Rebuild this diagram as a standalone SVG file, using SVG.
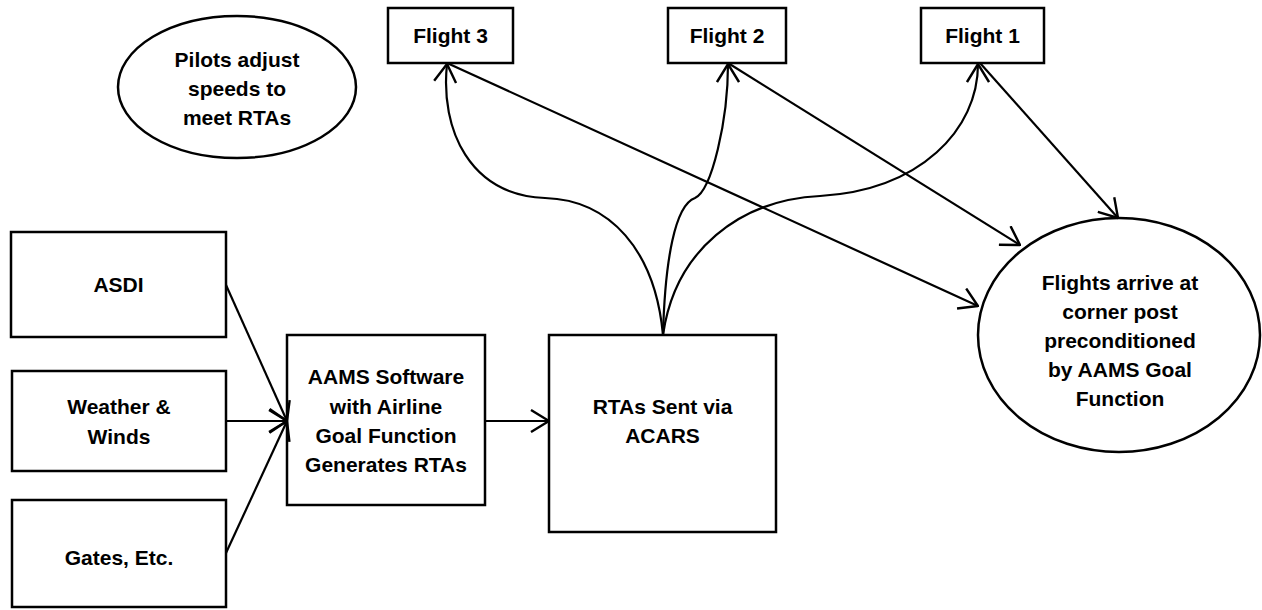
<svg xmlns="http://www.w3.org/2000/svg" width="1262" height="610" viewBox="0 0 1262 610">
<style>
.box{fill:#fff;stroke:#000;stroke-width:2.5}
.lbl{font-family:"Liberation Sans",Arial,sans-serif;font-weight:bold;font-size:21px;fill:#000;text-anchor:middle}
.ln{fill:none;stroke:#000;stroke-width:2.2}
</style>
<defs>
<marker id="arr" viewBox="0 0 20 24" refX="19" refY="12" markerWidth="20" markerHeight="24" orient="auto" markerUnits="userSpaceOnUse">
<path d="M1,1 L19,12 L1,23" fill="none" stroke="#000" stroke-width="2.4"/>
</marker>
</defs>
<rect width="1262" height="610" fill="#fff"/>
<g id="pilots">
<ellipse class="box" cx="237" cy="87" rx="119" ry="71"/>
<text class="lbl" x="237" y="67">Pilots adjust</text>
<text class="lbl" x="237" y="96">speeds to</text>
<text class="lbl" x="237" y="125">meet RTAs</text>
</g>
<g id="flight3">
<rect class="box" x="388" y="8" width="125" height="55"/>
<text class="lbl" x="450.5" y="43">Flight 3</text>
</g>
<g id="flight2">
<rect class="box" x="668" y="8" width="118" height="55"/>
<text class="lbl" x="727" y="43">Flight 2</text>
</g>
<g id="flight1">
<rect class="box" x="921" y="8" width="123" height="55"/>
<text class="lbl" x="982.5" y="43">Flight 1</text>
</g>
<g id="asdi">
<rect class="box" x="11" y="232" width="215" height="105"/>
<text class="lbl" x="118.5" y="292">ASDI</text>
</g>
<g id="weather">
<rect class="box" x="12" y="371" width="214" height="100"/>
<text class="lbl" x="119" y="414">Weather &amp;</text>
<text class="lbl" x="119" y="444">Winds</text>
</g>
<g id="gates">
<rect class="box" x="12" y="500" width="214" height="107"/>
<text class="lbl" x="119" y="565">Gates, Etc.</text>
</g>
<g id="aams">
<rect class="box" x="287" y="335" width="198" height="170"/>
<text class="lbl" x="386" y="384">AAMS Software</text>
<text class="lbl" x="386" y="414">with Airline</text>
<text class="lbl" x="386" y="443">Goal Function</text>
<text class="lbl" x="386" y="472">Generates RTAs</text>
</g>
<g id="rtas">
<rect class="box" x="549" y="335" width="227" height="197"/>
<text class="lbl" x="662.5" y="414">RTAs Sent via</text>
<text class="lbl" x="662.5" y="443">ACARS</text>
</g>
<g id="arrive">
<ellipse class="box" cx="1119" cy="335" rx="141" ry="117"/>
<text class="lbl" x="1120" y="290">Flights arrive at</text>
<text class="lbl" x="1120" y="319">corner post</text>
<text class="lbl" x="1120" y="348">preconditioned</text>
<text class="lbl" x="1120" y="377">by AAMS Goal</text>
<text class="lbl" x="1120" y="406">Function</text>
</g>
<g id="connectors">
<line class="ln" x1="226" y1="285" x2="287" y2="421" marker-end="url(#arr)"/>
<line class="ln" x1="226" y1="421" x2="287" y2="421" marker-end="url(#arr)"/>
<line class="ln" x1="226" y1="553" x2="287" y2="421" marker-end="url(#arr)"/>
<line class="ln" x1="485" y1="421" x2="549" y2="421" marker-end="url(#arr)"/>
<path class="ln" d="M663,335 C655,250 610,200 545,198 C470,195 440,130 447,64" marker-end="url(#arr)"/>
<path class="ln" d="M663,335 C665,260 675,205 695,198 C712,190 728,120 728,64" marker-end="url(#arr)"/>
<path class="ln" d="M663,335 C675,250 740,200 820,196 C920,190 978,130 978,64" marker-end="url(#arr)"/>
<line class="ln" x1="447" y1="63" x2="978" y2="306" marker-end="url(#arr)"/>
<line class="ln" x1="728" y1="63" x2="1020" y2="245" marker-end="url(#arr)"/>
<line class="ln" x1="980" y1="63" x2="1118" y2="218" marker-end="url(#arr)"/>
</g>
</svg>
